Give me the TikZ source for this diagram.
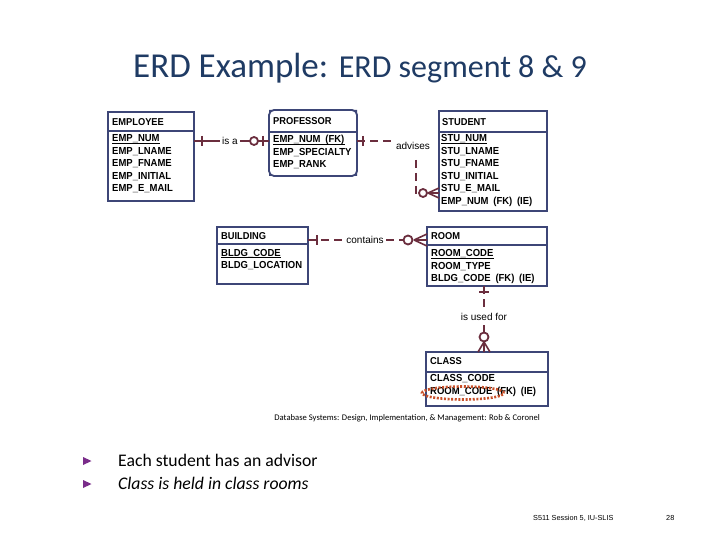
\documentclass[tikz,border=0pt]{standalone}
\usepackage{fontspec}
\setmainfont{Liberation Sans}
\newfontfamily\calib{Carlito}
\newfontfamily\erd[FakeStretch=0.93,WordSpace=1.8]{Liberation Sans}
\usetikzlibrary{calc}
\definecolor{boxc}{HTML}{3D4677}
\definecolor{relc}{HTML}{6B2E3E}
\definecolor{titc}{HTML}{1F3B64}
\definecolor{ovalc}{HTML}{C8502A}
\definecolor{bulc}{HTML}{7A2C8A}
\newcommand\entrows[4]{%
  \foreach \t [count=\i] in {#4} {\node[att] (#1-\i) at (#2, #3+12.6*\i-12.6) {\t};}}
\newcommand\pkline[1]{\draw[line width=0.9pt] ($(#1.base west)+(0,1.8)$) -- ($(#1.base east)+(0,1.8)$);}
\newcommand\hsep[2]{\draw[boxc,line width=1.5pt] ($(#1.north west)+(0,#2)$) -- ($(#1.north east)+(0,#2)$);}
\begin{document}
\begin{tikzpicture}[x=1pt,y=-1pt,
  ent/.style={draw=boxc,line width=1.8pt,anchor=north west,inner sep=0,outer sep=0},
  hdr/.style={anchor=base west,inner sep=0,font=\erd\fontsize{10}{10}\selectfont\bfseries},
  att/.style={anchor=base west,inner sep=0,font=\erd\fontsize{10.2}{10}\selectfont\bfseries},
  rel/.style={draw=relc,line width=2pt},
  reldash/.style={rel,dash pattern=on 8pt off 5pt},
  bar/.style={draw=relc,line width=2pt},
  ring/.style={draw=relc,line width=1.8pt,fill=white},
  foot/.style={draw=relc,line width=1.6pt},
  rlab/.style={fill=white,inner sep=2pt,font=\fontsize{10}{11}\selectfont},
  ]
\useasboundingbox (0,0) rectangle (720,540);
\fill[white] (0,0) rectangle (720,540);

% title
\node[anchor=base west,inner sep=0,text=titc] (title) at (133,78)
  {\calib\fontsize{35}{40}\selectfont ERD Example: \fontsize{32}{36}\selectfont ERD segment 8 \& 9};

% entities
\node[ent,minimum width=86pt,minimum height=89pt] (emp) at (108,112) {};
\node[ent,minimum width=88pt,minimum height=66pt,rounded corners=5pt] (prof) at (269,110) {};
\node[ent,minimum width=108pt,minimum height=100pt] (stu) at (439,111) {};
\node[ent,minimum width=91pt,minimum height=57pt] (bldg) at (217,227) {};
\node[ent,minimum width=120pt,minimum height=59pt] (room) at (427,227) {};
\node[ent,minimum width=122pt,minimum height=54pt] (cls) at (426,352) {};

% professor corner marks
\fill[boxc] (prof.north west) -- ++(4,0) -- ++(-4,4) -- cycle;
\fill[boxc] (prof.north east) -- ++(-4,0) -- ++(4,4) -- cycle;
\fill[boxc] (prof.south west) -- ++(4,0) -- ++(-4,-4) -- cycle;
\fill[boxc] (prof.south east) -- ++(-4,0) -- ++(4,-4) -- cycle;

\hsep{emp}{19}
\hsep{prof}{22}
\hsep{stu}{21}
\hsep{bldg}{17}
\hsep{room}{18}
\hsep{cls}{20}

% headers
\node[hdr] (emp-h) at (112,125.5) {EMPLOYEE};
\node[hdr] (prof-h) at (273,124.5) {PROFESSOR};
\node[hdr] (stu-h) at (442,125.5) {STUDENT};
\node[hdr] (bldg-h) at (221,239.5) {BUILDING};
\node[hdr] (room-h) at (431,240) {ROOM};
\node[hdr] (cls-h) at (430,364.5) {CLASS};

% attributes
\entrows{emp}{112}{141.5}{EMP\_NUM,EMP\_LNAME,EMP\_FNAME,EMP\_INITIAL,EMP\_E\_MAIL}
\entrows{prof}{273}{142.5}{EMP\_NUM (FK),EMP\_SPECIALTY,EMP\_RANK}
\entrows{stu}{441}{141.5}{STU\_NUM,STU\_LNAME,STU\_FNAME,STU\_INITIAL,STU\_E\_MAIL,EMP\_NUM (FK) (IE)}
\entrows{bldg}{221}{256}{BLDG\_CODE,BLDG\_LOCATION}
\entrows{room}{431}{256.5}{ROOM\_CODE,ROOM\_TYPE,BLDG\_CODE (FK) (IE)}
\entrows{cls}{430}{381.5}{CLASS\_CODE,ROOM\_CODE (FK) (IE)}

\pkline{emp-1}
\pkline{prof-1}
\pkline{stu-1}
\pkline{bldg-1}
\pkline{room-1}

% is a
\coordinate (a1) at ($(emp.north east)+(0,29)$);
\coordinate (a2) at ($(prof.north west)+(0,31)$);
\draw[rel] (a1) -- node[rlab,pos=0.48]{is a} (a2);
\draw[bar] ($(a1)+(8,-5)$) -- ($(a1)+(8,5)$);
\draw[bar] ($(a2)+(-6,-5)$) -- ($(a2)+(-6,5)$);
\draw[ring] ($(a2)+(-15,0)$) circle (4pt);

% advises
\coordinate (b1) at ($(prof.north east)+(0,31)$);
\coordinate (b2) at ($(stu.north west)+(0,82)$);
\draw[reldash] (b1) -| node[rlab,pos=0.5,xshift=-3pt,yshift=-5pt,inner ysep=5pt]{advises} ($(b2)+(-23,0)$) -- ($(b2)+(-20,0)$);
\draw[bar] ($(b1)+(6,-5)$) -- ($(b1)+(6,5)$);
\draw[ring] ($(b2)+(-16,0)$) circle (4pt);
\draw[foot] ($(b2)+(-11,0)$) -- ($(b2)+(0,-5)$) ($(b2)+(-11,0)$) -- (b2) ($(b2)+(-11,0)$) -- ($(b2)+(0,5)$);

% contains
\coordinate (c1) at ($(bldg.north east)+(0,13)$);
\coordinate (c2) at ($(room.north west)+(0,13)$);
\draw[reldash] (c1) -- node[rlab,pos=0.6]{contains} ($(c2)+(-24,0)$);
\draw[bar] ($(c1)+(9,-5)$) -- ($(c1)+(9,5)$);
\draw[ring] ($(c2)+(-19,0)$) circle (4.5pt);
\draw[foot] ($(c2)+(-13,0)$) -- ($(c2)+(0,-6)$) ($(c2)+(-13,0)$) -- (c2) ($(c2)+(-13,0)$) -- ($(c2)+(0,6)$);

% is used for
\coordinate (d1) at ($(room.south west)+(57,0)$);
\coordinate (d2) at ($(cls.north west)+(58,0)$);
\draw[reldash] (d1) -- node[rlab,pos=0.67]{is used for} ($(d2)+(0,-20)$);
\draw[bar] ($(d1)+(-5,6)$) -- ($(d1)+(5,6)$);
\draw[ring] ($(d2)+(0,-15)$) circle (4.5pt);
\draw[foot] ($(d2)+(0,-10)$) -- ($(d2)+(-6,0)$) ($(d2)+(0,-10)$) -- (d2) ($(d2)+(0,-10)$) -- ($(d2)+(6,0)$);

% highlight oval
\draw[ovalc,line width=2.6pt,dash pattern=on 2pt off 1.6pt] (463,393) ellipse (41pt and 6.5pt);

% caption
\node[anchor=east,inner sep=0,font=\calib\fontsize{8.6}{9}\selectfont] (cap) at (540,418)
  {Database Systems: Design, Implementation, \& Management: Rob \& Coronel};

% bullets
\fill[bulc] (83,457) -- (91.5,461) -- (83,465) -- cycle;
\fill[bulc] (83,480) -- (91.5,484) -- (83,488) -- cycle;
\node[anchor=base west,inner sep=0,font=\calib\fontsize{17.7}{19}\selectfont] (t-1) at (118,466.5) {Each student has an advisor};
\node[anchor=base west,inner sep=0,font=\calib\itshape\fontsize{17.7}{19}\selectfont] (t-2) at (118,489.5) {Class is held in class rooms};

% footer
\node[anchor=west,inner sep=0,font=\fontsize{7.3}{8}\selectfont] (foot1) at (533,518) {S511 Session 5, IU-SLIS};
\node[anchor=west,inner sep=0,font=\fontsize{7.3}{8}\selectfont] (foot2) at (666,518) {28};
\end{tikzpicture}
\end{document}
